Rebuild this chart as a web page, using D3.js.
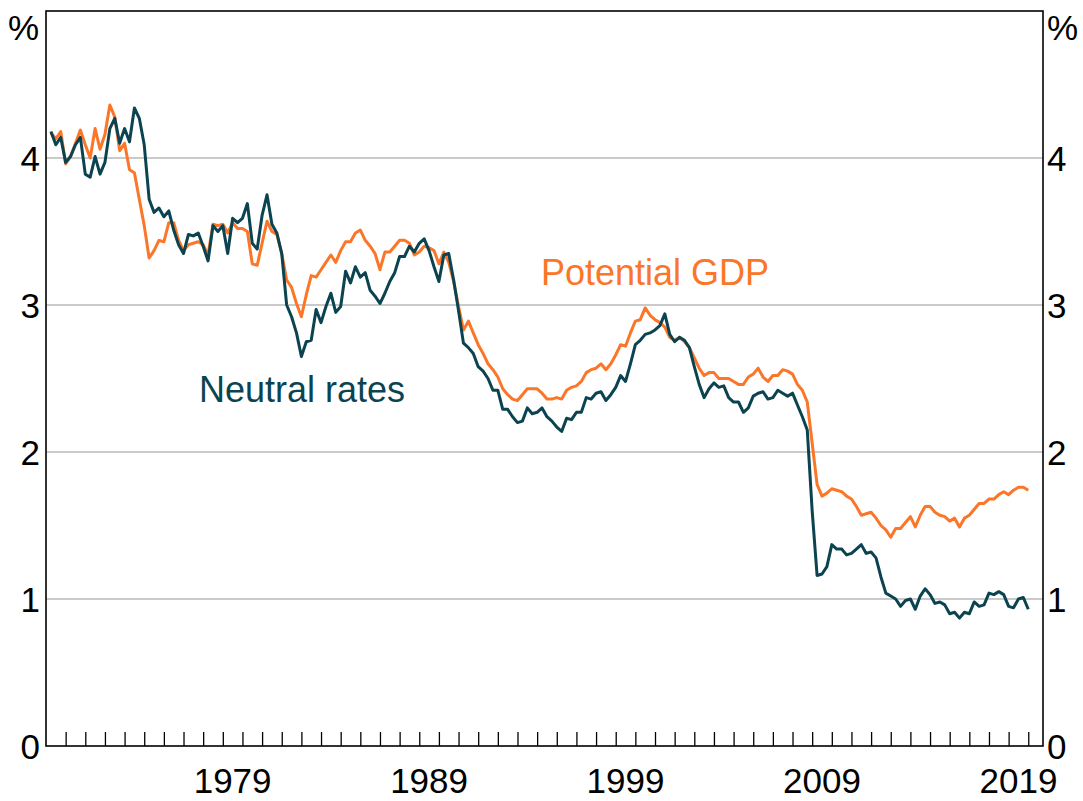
<!DOCTYPE html>
<html>
<head>
<meta charset="utf-8">
<script src="https://cdn.jsdelivr.net/npm/d3@7"></script>
<style>
  body { margin: 0; background: #fff; }
  text { font-family: Arial, "Liberation Sans", sans-serif; }
</style>
</head>
<body>
<div id="chart"></div>
<script>
// Quarterly estimates, 1970 Q1 to 2019 Q4 (per cent)
const neutralRates = [
  4.18, 4.09, 4.14, 3.97, 4.01, 4.09, 4.14, 3.89, 3.87, 4.01,
  3.89, 3.97, 4.20, 4.27, 4.10, 4.20, 4.11, 4.34, 4.27, 4.09,
  3.72, 3.63, 3.66, 3.60, 3.64, 3.51, 3.41, 3.35, 3.48, 3.47,
  3.49, 3.40, 3.30, 3.54, 3.50, 3.54, 3.35, 3.59, 3.56, 3.59,
  3.69, 3.42, 3.38, 3.61, 3.75, 3.55, 3.49, 3.35, 3.00, 2.92,
  2.81, 2.65, 2.75, 2.76, 2.97, 2.88, 2.99, 3.08, 2.95, 2.99,
  3.23, 3.15, 3.26, 3.19, 3.22, 3.10, 3.06, 3.01, 3.08, 3.16,
  3.22, 3.33, 3.33, 3.40, 3.36, 3.42, 3.45, 3.37, 3.26, 3.16,
  3.34, 3.35, 3.17, 2.96, 2.74, 2.71, 2.67, 2.58, 2.55, 2.50,
  2.42, 2.42, 2.29, 2.29, 2.24, 2.20, 2.21, 2.30, 2.26, 2.27,
  2.30, 2.24, 2.21, 2.17, 2.14, 2.23, 2.22, 2.27, 2.27, 2.37,
  2.36, 2.40, 2.41, 2.35, 2.39, 2.44, 2.52, 2.48, 2.60, 2.73,
  2.76, 2.80, 2.81, 2.83, 2.86, 2.94, 2.80, 2.75, 2.78, 2.76,
  2.71, 2.58, 2.46, 2.37, 2.43, 2.47, 2.44, 2.45, 2.37, 2.34,
  2.34, 2.27, 2.30, 2.38, 2.40, 2.41, 2.36, 2.37, 2.42, 2.40,
  2.38, 2.40, 2.32, 2.24, 2.15, 1.60, 1.16, 1.17, 1.22, 1.37,
  1.34, 1.34, 1.30, 1.31, 1.34, 1.37, 1.31, 1.32, 1.28, 1.15,
  1.04, 1.02, 1.00, 0.95, 0.99, 1.00, 0.93, 1.02, 1.07, 1.03,
  0.97, 0.98, 0.96, 0.90, 0.91, 0.87, 0.91, 0.90, 0.98, 0.95,
  0.96, 1.04, 1.03, 1.05, 1.03, 0.95, 0.94, 1.00, 1.01, 0.93
];

const potentialGdp = [
  4.17, 4.13, 4.18, 3.96, 4.01, 4.10, 4.19, 4.09, 4.00, 4.20,
  4.06, 4.16, 4.36, 4.28, 4.05, 4.10, 3.92, 3.90, 3.72, 3.54,
  3.32, 3.37, 3.44, 3.43, 3.56, 3.56, 3.44, 3.37, 3.41, 3.42,
  3.43, 3.41, 3.34, 3.55, 3.54, 3.55, 3.49, 3.56, 3.52, 3.52,
  3.50, 3.28, 3.27, 3.42, 3.57, 3.50, 3.48, 3.35, 3.17, 3.12,
  3.01, 2.92, 3.07, 3.20, 3.19, 3.24, 3.29, 3.34, 3.29, 3.37,
  3.43, 3.43, 3.49, 3.51, 3.44, 3.40, 3.35, 3.24, 3.36, 3.36,
  3.40, 3.44, 3.44, 3.42, 3.34, 3.36, 3.40, 3.39, 3.37, 3.28,
  3.36, 3.29, 3.16, 2.99, 2.83, 2.89, 2.81, 2.73, 2.67, 2.60,
  2.56, 2.51, 2.43, 2.39, 2.36, 2.35, 2.39, 2.43, 2.43, 2.43,
  2.40, 2.36, 2.36, 2.37, 2.36, 2.42, 2.44, 2.45, 2.48, 2.54,
  2.56, 2.57, 2.60, 2.56, 2.60, 2.66, 2.73, 2.72, 2.81, 2.89,
  2.90, 2.98, 2.93, 2.90, 2.88, 2.85, 2.78, 2.76, 2.78, 2.75,
  2.71, 2.64, 2.57, 2.52, 2.54, 2.54, 2.50, 2.50, 2.50, 2.48,
  2.46, 2.46, 2.51, 2.53, 2.57, 2.51, 2.48, 2.52, 2.52, 2.56,
  2.55, 2.53, 2.46, 2.42, 2.34, 2.06, 1.78, 1.70, 1.72, 1.75,
  1.74, 1.73, 1.70, 1.68, 1.63, 1.57, 1.58, 1.59, 1.55, 1.50,
  1.47, 1.42, 1.48, 1.48, 1.52, 1.56, 1.49, 1.57, 1.63, 1.63,
  1.59, 1.57, 1.56, 1.53, 1.55, 1.49, 1.55, 1.57, 1.61, 1.65,
  1.65, 1.68, 1.68, 1.71, 1.73, 1.71, 1.74, 1.76, 1.76, 1.74
];

const yTicks = [0, 1, 2, 3, 4];
const yearLabels = [1979, 1989, 1999, 2009, 2019];
const firstYear = 1970;

// Quarter categories, plotted at the end of each quarter
const quarters = neutralRates.map((d, i) => firstYear + (i + 1) / 4);

const width = 1083;
const height = 801;
const margin = { top: 11, right: 40, bottom: 55, left: 46 };

const teal = "#0b4450";
const orange = "#fb7628";
const fontSize = 35;

function renderChart() {
  const svg = d3
    .select("#chart")
    .append("svg")
    .attr("width", width)
    .attr("height", height);

  const x = d3
    .scaleLinear()
    .domain([1970, 2020.75])
    .range([margin.left, width - margin.right]);

  const y = d3
    .scaleLinear()
    .domain([0, 5])
    .range([height - margin.bottom, margin.top]);

  // Horizontal gridlines
  svg
    .append("g")
    .selectAll("line")
    .data(yTicks.filter((d) => d > 0))
    .enter()
    .append("line")
    .attr("x1", x.range()[0])
    .attr("x2", x.range()[1])
    .attr("y1", (d) => y(d))
    .attr("y2", (d) => y(d))
    .attr("stroke", "#b9b9b9")
    .attr("stroke-width", 1.5);

  // Yearly ticks pointing into the plot
  const years = d3.range(1971, 2021);
  const xAxis = svg
    .append("g")
    .attr("transform", `translate(0,${y(0)})`)
    .call(
      d3.axisBottom(x)
        .tickValues(years)
        .tickSize(-14)
        .tickSizeOuter(0)
        .tickFormat("")
    );
  xAxis.select(".domain").remove();
  xAxis.selectAll(".tick line").attr("stroke", "#000").attr("stroke-width", 1.3);

  // Year labels, centred on each year
  svg
    .append("g")
    .selectAll("text")
    .data(yearLabels)
    .enter()
    .append("text")
    .attr("x", (d) => x(d + 0.5))
    .attr("y", y(0) + 47)
    .attr("text-anchor", "middle")
    .attr("font-size", fontSize)
    .text((d) => d);

  // Left and right value labels
  const leftAxis = svg
    .append("g")
    .attr("transform", `translate(${x.range()[0]},0)`)
    .call(d3.axisLeft(y).tickValues(yTicks).tickFormat(d3.format("d")).tickSize(0).tickPadding(6));
  const rightAxis = svg
    .append("g")
    .attr("transform", `translate(${x.range()[1]},0)`)
    .call(d3.axisRight(y).tickValues(yTicks).tickFormat(d3.format("d")).tickSize(0).tickPadding(4));
  [leftAxis, rightAxis].forEach((a) => {
    a.select(".domain").remove();
    a.selectAll("text")
      .attr("font-size", fontSize)
      .attr("font-family", "Arial, 'Liberation Sans', sans-serif")
      .attr("fill", "#000")
      .attr("dy", "0.36em");
  });

  svg
    .append("text")
    .attr("x", x.range()[0] - 7)
    .attr("y", 40)
    .attr("text-anchor", "end")
    .attr("font-size", fontSize)
    .text("%");
  svg
    .append("text")
    .attr("x", x.range()[1] + 4)
    .attr("y", 40)
    .attr("font-size", fontSize)
    .text("%");

  // Series lines
  const line = (values) =>
    d3
      .line()
      .x((d, i) => x(quarters[i]))
      .y((d) => y(d))(values);

  svg
    .append("path")
    .attr("d", line(potentialGdp))
    .attr("fill", "none")
    .attr("stroke", orange)
    .attr("stroke-width", 3)
    .attr("stroke-linejoin", "round");

  svg
    .append("path")
    .attr("d", line(neutralRates))
    .attr("fill", "none")
    .attr("stroke", teal)
    .attr("stroke-width", 3)
    .attr("stroke-linejoin", "round");

  // Series labels
  svg
    .append("text")
    .attr("x", 541)
    .attr("y", 285)
    .attr("font-size", 36)
    .attr("fill", orange)
    .text("Potential GDP");

  svg
    .append("text")
    .attr("x", 199)
    .attr("y", 402)
    .attr("font-size", 36)
    .attr("fill", teal)
    .text("Neutral rates");

  // Plot frame
  svg
    .append("rect")
    .attr("x", x.range()[0])
    .attr("y", y.range()[1])
    .attr("width", x.range()[1] - x.range()[0])
    .attr("height", y.range()[0] - y.range()[1])
    .attr("fill", "none")
    .attr("stroke", "#000")
    .attr("stroke-width", 1.6);
}

renderChart();
</script>
</body>
</html>
